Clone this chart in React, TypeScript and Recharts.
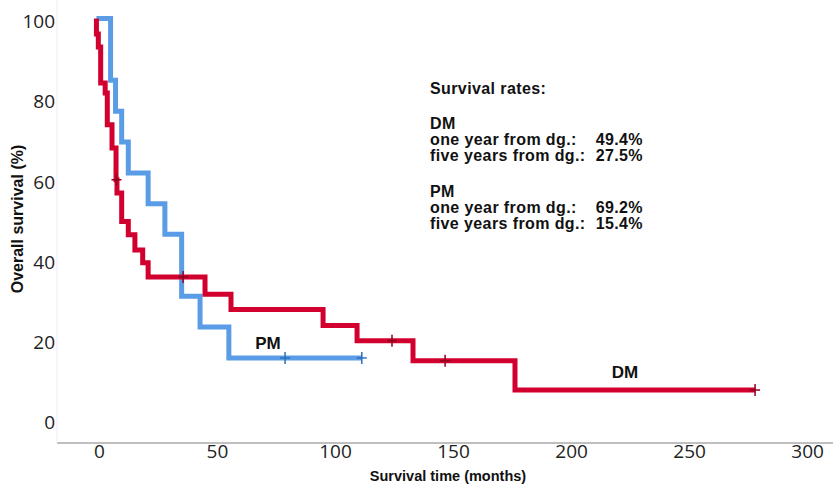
import { ComposedChart, Line, Scatter, XAxis, YAxis } from "recharts";

// Kaplan-Meier curves (months, % surviving)
const dmTimes = [0, 0, 0.8, 1.8, 3.7, 4.6, 6.6, 8.3, 8.7, 10.7, 13.5, 16.3, 19.6, 21.9, 46, 57, 96, 110.4, 134.1, 177.3, 279];
const dmSurvival = [100, 96.1, 92.9, 83.9, 81.4, 73.5, 67.7, 59.8, 56.5, 49.4, 46.1, 42.3, 39.1, 35.6, 31.3, 27.5, 23.5, 19.7, 14.7, 7.4, 7.4];
const dmCensored = [8.5, 36.7, 125.2, 147.7, 279];

const pmTimes = [0, 6.0, 8.1, 10.7, 13.5, 21.9, 29, 36.1, 43.9, 56.1, 112.4];
const pmSurvival = [100, 84.6, 76.9, 69.2, 61.5, 53.8, 46.2, 30.8, 23.1, 15.4, 15.4];
const pmCensored = [79.9, 112.4];

const xTicks = [0, 50, 100, 150, 200, 250, 300];
const yTicks = [0, 20, 40, 60, 80, 100];

const RED = "#D2002E";
const BLUE = "#5B9CE6";

const toPoints = (times: number[], surv: number[]) =>
  times.map((t, i) => ({ t, s: surv[i] }));

const stepAt = (times: number[], surv: number[], t: number) => {
  let v = surv[0];
  times.forEach((tt, i) => {
    if (tt <= t) v = surv[i];
  });
  return v;
};

const censorPoints = (cens: number[], times: number[], surv: number[]) =>
  cens.map((t) => ({ t, s: stepAt(times, surv, t) }));

const dmLine = toPoints(dmTimes, dmSurvival);
const pmLine = toPoints(pmTimes, pmSurvival);
const dmCens = censorPoints(dmCensored, dmTimes, dmSurvival);
const pmCens = censorPoints(pmCensored, pmTimes, pmSurvival);

const censorMark = (color: string) => (props: any) => {
  const { cx, cy } = props;
  return (
    <g>
      <line x1={cx} x2={cx} y1={cy - 6} y2={cy + 6} stroke={color} strokeWidth={1.5} />
      <line x1={cx - 5} x2={cx + 5} y1={cy} y2={cy} stroke={color} strokeWidth={1.5} />
    </g>
  );
};

const boldFont = "'Liberation Sans', Arial, sans-serif";
const fs = 16;
const ls = 0.4;

export default function App() {
  return (
    <div style={{ position: "relative", width: 833, height: 486, background: "#fff" }}>
      <style>{`body{margin:0}`}</style>
      <ComposedChart width={833} height={486} margin={{ top: 0, right: 0, left: 0, bottom: 0 }}>
        <XAxis
          type="number"
          dataKey="t"
          domain={[-16.7, 312]}
          allowDataOverflow
          ticks={xTicks}
          height={43}
          tickSize={0}
          tickMargin={2}
          stroke="#808080"
          tick={{ fill: "#222", fontSize: 19, fontFamily: "'Open Sans', sans-serif", dx: 3 }}
        />
        <YAxis
          type="number"
          domain={[-5.8, 104.6]}
          allowDataOverflow
          ticks={yTicks}
          width={57}
          tickSize={0}
          tickMargin={2}
          stroke="#ececec"
          tick={{ fill: "#222", fontSize: 19, fontFamily: "'Open Sans', sans-serif", dy: 3 }}
        />
        <Line
          data={pmLine}
          dataKey="s"
          type="stepAfter"
          stroke={BLUE}
          strokeWidth={5}
          dot={false}
          activeDot={false}
          isAnimationActive={false}
        />
        <Line
          data={dmLine}
          dataKey="s"
          type="stepAfter"
          stroke={RED}
          strokeWidth={5}
          dot={false}
          activeDot={false}
          isAnimationActive={false}
        />
        <Scatter data={pmCens} dataKey="s" shape={censorMark("#2F6FB8")} isAnimationActive={false} />
        <Scatter data={dmCens} dataKey="s" shape={censorMark("#8E0020")} isAnimationActive={false} />
      </ComposedChart>
      <svg
        width={833}
        height={486}
        style={{ position: "absolute", left: 0, top: 0, pointerEvents: "none" }}
        fontFamily={boldFont}
        fontWeight="bold"
        fill="#111"
      >
        <g fontSize={fs} letterSpacing={ls}>
          <text x={430} y={94}>Survival rates:</text>
          <text x={430} y={128.5}>DM</text>
          <text x={430} y={144.5}>one year from dg.:</text>
          <text x={643} y={144.5} textAnchor="end">49.4%</text>
          <text x={430} y={160.5}>five years from dg.:</text>
          <text x={643} y={160.5} textAnchor="end">27.5%</text>
          <text x={430} y={196.5}>PM</text>
          <text x={430} y={212.5}>one year from dg.:</text>
          <text x={643} y={212.5} textAnchor="end">69.2%</text>
          <text x={430} y={228.5}>five years from dg.:</text>
          <text x={643} y={228.5} textAnchor="end">15.4%</text>
        </g>
        <text x={268} y={349} fontSize={17} textAnchor="middle">PM</text>
        <text x={625} y={378} fontSize={17} textAnchor="middle">DM</text>
        <text x={448} y={481} fontSize={14.5} textAnchor="middle">Survival time (months)</text>
        <text transform="translate(22.5,219) rotate(-90)" fontSize={16} textAnchor="middle">
          Overall survival (%)
        </text>
      </svg>
    </div>
  );
}
